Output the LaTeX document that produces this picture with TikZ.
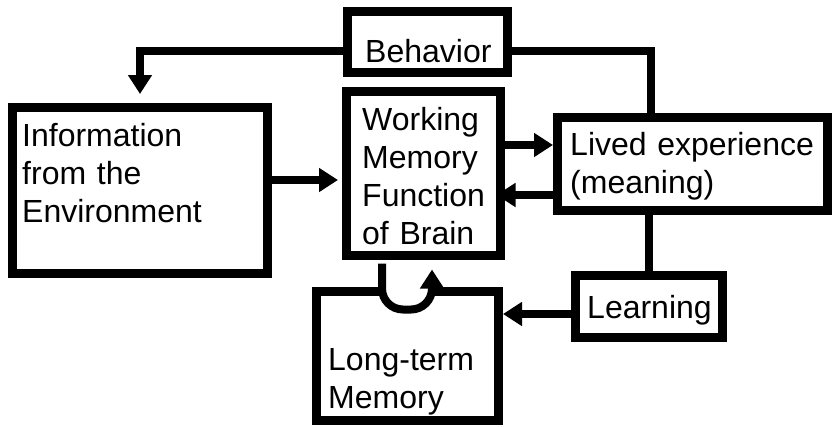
\documentclass[tikz,border=0pt]{standalone}
\usepackage{fontspec}
\setmainfont{Liberation Sans}
\usetikzlibrary{arrows.meta}
\begin{document}
\begin{tikzpicture}[x=1pt,y=-1pt]
\tikzstyle{bx} = [draw=black,line width=9pt,inner sep=0pt] %box
\tikzstyle{tx} = [anchor=base west,inner sep=0pt,text width=280pt,align=left,font=\fontsize{32}{38}\selectfont] %text
\tikzstyle{ln} = [line width=8pt] %link
\tikzstyle{ar} = [line width=8pt,-{Triangle[length=19pt,width=23pt]}] %arrow
\useasboundingbox (0,0) rectangle (832,426);
\node[bx,minimum width=160pt,minimum height=61pt](beh)at(427.5,42){};
\node[bx,minimum width=255pt,minimum height=166pt](info)at(140,190.5){};
\node[bx,minimum width=154pt,minimum height=164pt](wm)at(423.5,173.5){};
\node[bx,minimum width=270pt,minimum height=93pt](lived)at(692.5,164){};
\node[bx,minimum width=147pt,minimum height=62pt](learn)at(649,306.5){};
\node[bx,minimum width=182pt,minimum height=129pt](ltm)at(407.5,356){};
\node[tx](tbeh)at(365,62){Behavior};
\node[tx](tinfo)at(22,146){Information\\from the\\Environment};
\node[tx](twm)at(362,130){Working\\Memory\\Function\\of Brain};
\node[tx](tlived)at(570,155){Lived experience\\(meaning)};
\node[tx](tlearn)at(587,318){Learning};
\node[tx](tltm)at(328,370){Long-term\\Memory};
\coordinate(bw)at([yshift=-9pt]beh.west);
\coordinate(wmin)at([xshift=-4pt,yshift=-6.5pt]wm.west);
\coordinate(wmr)at([xshift=-8.5pt]wm.east);
\coordinate(lvo)at([yshift=19pt]lived.west);
\coordinate(lvi)at([yshift=-31pt]lived.west);
\coordinate(lin)at([yshift=-7.5pt]learn.west);
\draw[ar](bw)-|([yshift=9pt]info.north);
\draw[ln]([yshift=-9pt]beh.east)-|([xshift=-41.5pt]lived.north);
\draw[ar](wmin -| info.east)--(wmin);
\draw[ar](lvo -| wm.east)--(lvo);
\draw[ar](lvi)--(lvi -| wmr);
\draw[ln](learn.north |- lived.south)--(learn.north);
\draw[ar](lin)--(lin -| ltm.east);
\draw[ar,fill=white,rounded corners=21pt]([xshift=-41.5pt,yshift=-3.5pt]wm.south)--++(0,46)--++(50,0)--([xshift=8.5pt,yshift=-9.5pt]wm.south);
\end{tikzpicture}
\end{document}
